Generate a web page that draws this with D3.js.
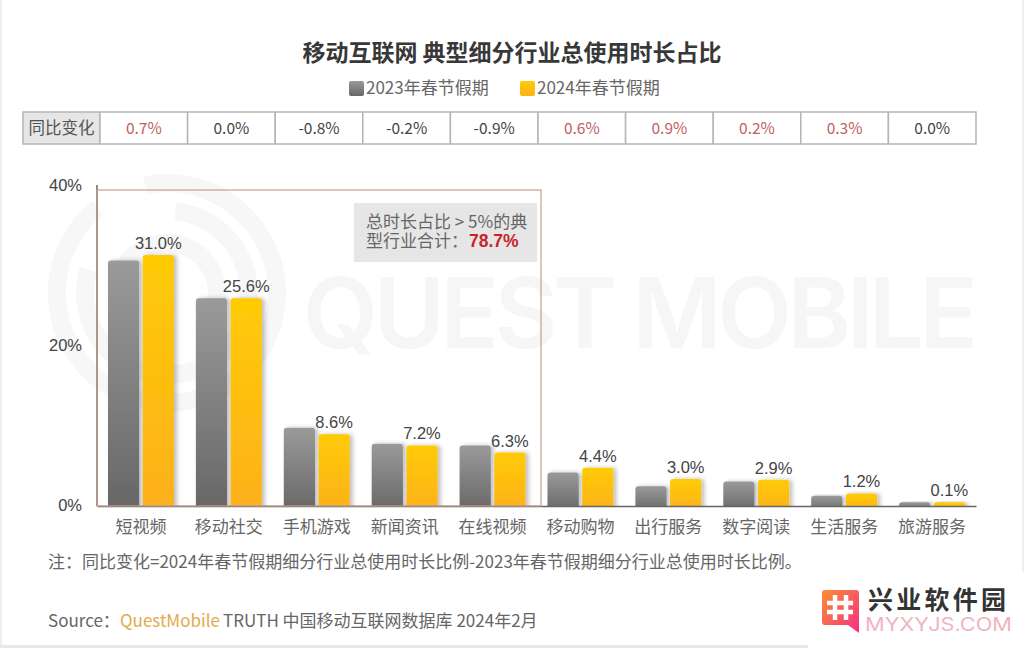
<!DOCTYPE html>
<html>
<head>
<meta charset="utf-8">
<script src="https://cdn.jsdelivr.net/npm/d3@7"></script>
<style>
  html, body { margin: 0; padding: 0; background: #fff; overflow: hidden; }
  text { font-family: "Liberation Sans", "Noto Sans CJK SC", sans-serif; }
  .cjk { font-family: "Noto Sans CJK SC", "Liberation Sans", sans-serif; }
</style>
</head>
<body>
<svg id="chart" width="1024" height="648"></svg>
<script>
const categories = ['短视频', '移动社交', '手机游戏', '新闻资讯', '在线视频', '移动购物', '出行服务', '数字阅读', '生活服务', '旅游服务'];
const seriesNames = ['2023年春节假期', '2024年春节假期'];
const values2023 = [30.3, 25.6, 9.4, 7.4, 7.2, 3.8, 2.1, 2.7, 0.9, 0.1];
const values2024 = [31.0, 25.6, 8.6, 7.2, 6.3, 4.4, 3.0, 2.9, 1.2, 0.1];
const yoyLabels = ['0.7%', '0.0%', '-0.8%', '-0.2%', '-0.9%', '0.6%', '0.9%', '0.2%', '0.3%', '0.0%'];
const yTicks = [0, 20, 40];

const svg = d3.select('#chart');
const defs = svg.append('defs');

function gradient(id, top, bottom) {
  const g = defs.append('linearGradient').attr('id', id)
    .attr('x1', 0).attr('y1', 0).attr('x2', 0).attr('y2', 1);
  g.append('stop').attr('offset', '0%').attr('stop-color', top);
  g.append('stop').attr('offset', '100%').attr('stop-color', bottom);
}
gradient('gray', '#9a9a9a', '#666666');
gradient('yellow', '#ffcb05', '#fdb01c');

const logoGrad = defs.append('linearGradient').attr('id', 'logo')
  .attr('x1', 0).attr('y1', 0).attr('x2', 1).attr('y2', 1);
logoGrad.append('stop').attr('offset', '0%').attr('stop-color', '#fb8f34');
logoGrad.append('stop').attr('offset', '100%').attr('stop-color', '#f52e84');

defs.append('filter').attr('id', 'shadow')
  .attr('x', '-20%').attr('y', '-10%').attr('width', '150%').attr('height', '120%')
  .append('feDropShadow')
  .attr('dx', 3).attr('dy', 0).attr('stdDeviation', 2)
  .attr('flood-color', '#000').attr('flood-opacity', 0.25);

const baseY = 506;
defs.append('clipPath').attr('id', 'plotClip').append('rect')
  .attr('x', 90).attr('y', 150).attr('width', 900).attr('height', baseY - 150);

// page frame
svg.append('rect').attr('x', 0).attr('y', 0).attr('width', 2).attr('height', 646).attr('fill', '#eeeeee');
svg.append('rect').attr('x', 1022).attr('y', 0).attr('width', 2).attr('height', 572).attr('fill', '#eeeeee');
svg.append('rect').attr('x', 0).attr('y', 645).attr('width', 808).attr('height', 3).attr('fill', '#e8e8e8');

// watermark
const wm = svg.append('g').attr('fill', 'none').attr('stroke', '#f7f7f7').attr('stroke-width', 18);
const wmArc = d3.arc();
[[110, -0.2, 5.6], [82, 0.1, 5.0], [50, -1.6, 2.4]].forEach(([r, a0, a1]) => {
  wm.append('path')
    .attr('transform', 'translate(167,293)')
    .attr('d', wmArc({ innerRadius: r, outerRadius: r, startAngle: a0, endAngle: a1 }));
});
svg.append('text').attr('x', 303).attr('y', 348)
  .attr('font-size', 97).attr('fill', '#f6f6f6').attr('textLength', 675)
  .style('font-family', 'Inter, "Open Sans", sans-serif').attr('font-weight', 600)
  .text('QUEST MOBILE');

// title and legend
svg.append('text').attr('class', 'cjk').attr('x', 512).attr('y', 61)
  .attr('text-anchor', 'middle').attr('font-size', 23).attr('font-weight', 700).attr('fill', '#383838')
  .text('移动互联网 典型细分行业总使用时长占比');

const legendX = [349, 520];
const legendFill = ['url(#gray)', 'url(#yellow)'];
seriesNames.forEach((name, i) => {
  svg.append('rect').attr('x', legendX[i]).attr('y', 81).attr('width', 15).attr('height', 15)
    .attr('rx', 2).attr('fill', legendFill[i]);
  svg.append('text').attr('class', 'cjk').attr('x', legendX[i] + 17).attr('y', 94)
    .attr('font-size', 17).attr('fill', '#666').text(name);
});

// scales
const x = d3.scaleBand().domain(categories).range([97, 976]).paddingInner(0.25).paddingOuter(0.125);
const xInner = d3.scaleBand().domain([0, 1]).range([0, x.bandwidth()]).paddingInner(0.1);
const xTable = d3.scaleBand().domain(categories).range([100, 976]);
const y = d3.scaleLinear().domain([0, 40]).range([503, 183]);

// yoy table
const tableTop = 112, tableH = 32;
const table = svg.append('g');
table.append('rect').attr('x', 23).attr('y', tableTop).attr('width', 77).attr('height', tableH)
  .attr('fill', '#e6e6e6').attr('stroke', '#b5b5b5').attr('stroke-width', 1.5);
table.append('text').attr('class', 'cjk').attr('x', 61.5).attr('y', tableTop + 22)
  .attr('text-anchor', 'middle').attr('font-size', 16.5).attr('fill', '#555').text('同比变化');
const cells = table.selectAll('g.cell').data(categories).enter().append('g').attr('class', 'cell')
  .attr('transform', d => `translate(${xTable(d)},${tableTop})`);
cells.append('rect').attr('width', xTable.bandwidth()).attr('height', tableH)
  .attr('fill', '#fff').attr('stroke', '#b5b5b5').attr('stroke-width', 1.5);
cells.append('text').attr('class', 'cjk').attr('x', xTable.bandwidth() / 2).attr('y', 22).attr('text-anchor', 'middle')
  .attr('font-size', 15.5)
  .attr('fill', (d, i) => (parseFloat(yoyLabels[i]) > 0 ? '#c0605f' : '#444'))
  .text((d, i) => yoyLabels[i]);

// bars
const plot = svg.append('g').attr('clip-path', 'url(#plotClip)');
function drawBars(vals, idx, fill) {
  plot.append('g').selectAll('rect').data(vals).enter().append('rect')
    .attr('x', (d, i) => x(categories[i]) + xInner(idx))
    .attr('y', d => y(d))
    .attr('width', xInner.bandwidth())
    .attr('height', d => baseY + 6 - y(d))
    .attr('rx', 3)
    .attr('fill', fill)
    .attr('filter', 'url(#shadow)');
}
drawBars(values2023, 0, 'url(#gray)');
drawBars(values2024, 1, 'url(#yellow)');

// value labels
svg.append('g').selectAll('text').data(values2024).enter().append('text')
  .attr('x', (d, i) => x(categories[i]) + xInner(1) + xInner.bandwidth() / 2)
  .attr('y', d => y(d) - 6)
  .attr('text-anchor', 'middle').attr('font-size', 16.5).attr('fill', '#444')
  .text(d => d.toFixed(1) + '%');

// axes
const yAxis = svg.append('g').attr('transform', 'translate(97,0)')
  .call(d3.axisLeft(y).tickValues(yTicks).tickSize(0).tickPadding(15).tickFormat(d => d + '%'));
yAxis.select('.domain').remove();
yAxis.selectAll('text').attr('font-size', 16.5).attr('fill', '#444').attr('dy', '0.45em')
  .style('font-family', '"Liberation Sans", sans-serif');
svg.append('line').attr('x1', 97).attr('x2', 97).attr('y1', 185).attr('y2', baseY)
  .attr('stroke', '#6d5f5a').attr('stroke-width', 1.5);

const xAxis = svg.append('g').attr('transform', `translate(0,${baseY})`)
  .call(d3.axisBottom(x).tickSize(0).tickPadding(15));
xAxis.select('.domain').attr('stroke', '#666').attr('stroke-width', 1.5);
xAxis.selectAll('text').attr('class', 'cjk').attr('font-size', 17).attr('fill', '#666')
  .style('font-family', '"Noto Sans CJK SC", sans-serif');

// highlight box
svg.append('rect').attr('x', 97).attr('y', 190).attr('width', 444).attr('height', baseY - 190)
  .attr('fill', 'none').attr('stroke', '#c99f90').attr('stroke-width', 1.2);

// annotation
svg.append('rect').attr('x', 354).attr('y', 203).attr('width', 183).attr('height', 59).attr('fill', '#e6e6e6');
svg.append('text').attr('class', 'cjk').attr('x', 366).attr('y', 228)
  .attr('font-size', 17).attr('fill', '#666').text('总时长占比 > 5%的典');
const note2 = svg.append('text').attr('class', 'cjk').attr('x', 366).attr('y', 247)
  .attr('font-size', 17).attr('fill', '#666');
note2.append('tspan').text('型行业合计：');
note2.append('tspan').attr('x', 469).attr('fill', '#c8232c').attr('font-weight', 700).attr('font-size', 17.5)
  .style('font-family', '"Liberation Sans", sans-serif').text('78.7%');

// footnotes
svg.append('text').attr('class', 'cjk').attr('x', 48).attr('y', 568)
  .attr('font-size', 17).attr('fill', '#666')
  .text('注：同比变化=2024年春节假期细分行业总使用时长比例-2023年春节假期细分行业总使用时长比例。');
const source = svg.append('text').attr('class', 'cjk').attr('y', 627).attr('font-size', 17).attr('fill', '#666');
source.append('tspan').attr('x', 48).text('Source：');
source.append('tspan').attr('x', 120).attr('fill', '#e3aa4b').text('QuestMobile');
source.append('tspan').attr('x', 223).text('TRUTH 中国移动互联网数据库 2024年2月');

// site logo
const logo = svg.append('g');
logo.append('path').attr('d', 'M825 590H856Q859 590 859 593V633L848 625H825Q822 625 822 622V593Q822 590 825 590Z')
  .attr('fill', 'url(#logo)');
const hash = logo.append('g').attr('stroke', '#fff').attr('stroke-width', 4.5);
hash.append('line').attr('x1', 835).attr('x2', 835).attr('y1', 595).attr('y2', 620);
hash.append('line').attr('x1', 846).attr('x2', 846).attr('y1', 595).attr('y2', 620);
hash.append('line').attr('x1', 827).attr('x2', 853).attr('y1', 603).attr('y2', 603);
hash.append('line').attr('x1', 827).attr('x2', 853).attr('y1', 612).attr('y2', 612);
logo.append('text').attr('class', 'cjk').attr('x', 868).attr('y', 609)
  .attr('font-size', 25).attr('font-weight', 700).attr('fill', '#333').attr('textLength', 138).text('兴业软件园');
logo.append('text').attr('x', 865).attr('y', 631)
  .attr('font-size', 18).attr('fill', '#f0b4c0').attr('textLength', 147).attr('lengthAdjust', 'spacingAndGlyphs')
  .style('font-family', 'Inter, sans-serif').text('MYXYJS.COM');
</script>
</body>
</html>
